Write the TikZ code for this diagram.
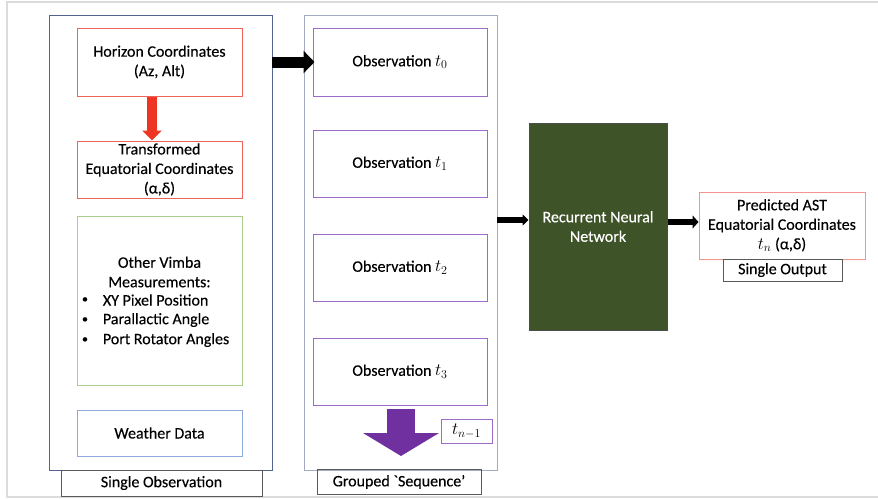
\documentclass[tikz,border=0pt]{standalone}
\usepackage{fontspec}
\setmainfont{Carlito}[FakeBold=0.3]
\newfontfamily\plainfont{Carlito}[FakeBold=0.3]
\usetikzlibrary{arrows.meta,calc}
\definecolor{bluebox}{HTML}{53628F}
\definecolor{greybox}{HTML}{A3AAC2}
\definecolor{redbox}{HTML}{F0635A}
\definecolor{redarrow}{HTML}{EE3524}
\definecolor{greenbox}{HTML}{A8CF8E}
\definecolor{weatherbox}{HTML}{8FAADC}
\definecolor{purplebox}{HTML}{9C6BC8}
\definecolor{purplearrow}{HTML}{7030A0}
\definecolor{rnnfill}{HTML}{3F5329}
\definecolor{predbox}{HTML}{F2958E}
\definecolor{labelbox}{HTML}{5A5A5A}
\definecolor{framegrey}{HTML}{DCDCDC}
\definecolor{txt}{HTML}{000000}
\newcommand{\tm}[1]{{\fontsize{18}{19.5}\selectfont$#1$}}
\begin{document}
\begin{tikzpicture}[x=1pt,y=-1pt,
  font=\fontsize{16}{19.5}\selectfont,
  every node/.style={text=txt},
  box/.style={draw, line width=1pt, inner sep=0pt, align=center},
  outerbox/.style={box, line width=0.9pt},
  labelbx/.style={box, draw=labelbox, line width=1pt},
  obsbox/.style={box, draw=purplebox, minimum width=174pt, minimum height=67pt},
  bulletdot/.style={inner sep=0pt, font=\fontsize{12}{12}\selectfont},
]
\useasboundingbox (0,0) rectangle (878,498);
% outer light frame
\draw[framegrey, line width=2pt] (878,1.5) -- (7,1.5) -- (7,496.5) -- (878,496.5);

% ---- column 1
\node[outerbox, draw=bluebox, minimum width=223pt, minimum height=455pt] (box1) at (160.5,242.5) {};
\node[box, draw=redbox, minimum width=165pt, minimum height=68pt] (horizon) at (159.5,62) {Horizon Coordinates\\(Az, Alt)};
\node[box, draw=redbox, minimum width=165pt, minimum height=57pt] (transformed) at (159.5,169.5) {Transformed\\Equatorial Coordinates\\(α,δ)};
\node[box, draw=greenbox, minimum width=165pt, minimum height=169pt] (vimba) at (159.5,300.5) {};
\node[align=center, inner sep=0pt] (vimbatitle) at (159.5,272) {Other Vimba\\Measurements:};
\node[anchor=west, inner sep=0pt] (b1) at (102.7,300) {XY Pixel Position};
\node[anchor=west, inner sep=0pt] (b2) at (102.7,320) {Parallactic Angle};
\node[anchor=west, inner sep=0pt] (b3) at (102.7,340) {Port Rotator Angles};
\node[bulletdot] (d1) at (85,300) {•};
\node[bulletdot] (d2) at (85,320) {•};
\node[bulletdot] (d3) at (85,340) {•};
\node[box, draw=weatherbox, minimum width=165pt, minimum height=46pt] (weather) at (159.5,433) {Weather Data};
\node[labelbx, minimum width=201pt, minimum height=26pt] (singleobs) at (161.5,483) {Single Observation};

% ---- column 2
\node[outerbox, draw=greybox, minimum width=193pt, minimum height=455pt] (box2) at (400.5,242.5) {};
\node[obsbox, minimum height=68pt] (t0) at (400,62) {Observation \tm{t_0}};
\node[obsbox] (t1) at (400,163.5) {Observation \tm{t_1}};
\node[obsbox] (t2) at (400,267.5) {Observation \tm{t_2}};
\node[obsbox] (t3) at (400,371.5) {Observation \tm{t_3}};
\node[box, draw=purplebox, minimum width=51pt, minimum height=24pt] (tn1) at (466.5,431) {\tm{t_{n-1}}};
\node[labelbx, minimum width=164pt, minimum height=25pt] (grouped) at (399,482) {Grouped {\plainfont`}Sequence’};

% ---- RNN and output
\node[box, draw=black!70, fill=rnnfill, minimum width=138pt, minimum height=207pt] (rnn) at (598,226.5) {\textcolor{white}{Recurrent Neural}\\\textcolor{white}{Network}};
\node[box, draw=predbox, minimum width=166pt, minimum height=67pt] (pred) at (782,225.5) {Predicted AST\\Equatorial Coordinates\\\tm{t_n} (α,δ)};
\node[labelbx, minimum width=119pt, minimum height=22pt] (singleout) at (782.5,270) {Single Output};

% ---- connectors
\draw[line width=11pt, -{Triangle[width=22pt,length=11pt]}] (box1.east |- t0) -- ($(t0.west)+(2,0)$);
\draw[redarrow, line width=10pt, -{Triangle[width=19pt,length=10pt]}] ($(horizon.south)+(-7.5,0)$) -- ($(transformed.north)+(-7.5,0)$);
\draw[line width=5.5pt, -{Triangle[width=11pt,length=6pt]}] ($(box2.east)+(0,-22.5)$) -- ($(rnn.west)+(0,-6.5)$);
\draw[line width=6.5pt, -{Triangle[width=13pt,length=6pt]}] ($(rnn.east)+(0,-4.5)$) -- ($(pred.west)+(0,-3.5)$);
\coordinate (pa) at (401,409);
\coordinate (pb) at (401,456);
\draw[purplearrow, line width=28pt, -{Triangle[width=75pt,length=23pt]}] (pa) -- (pb);
\end{tikzpicture}
\end{document}
